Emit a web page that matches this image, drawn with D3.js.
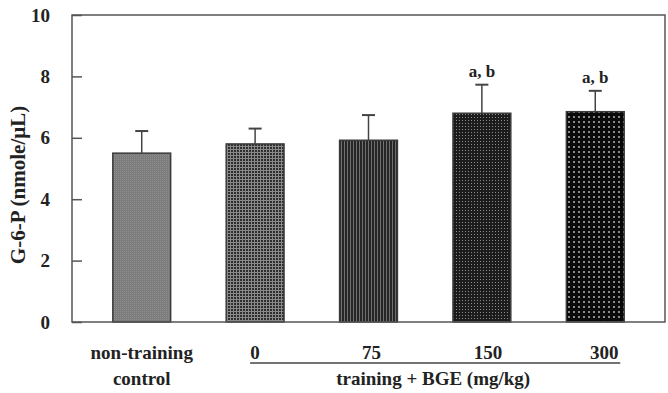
<!DOCTYPE html>
<html>
<head>
<meta charset="utf-8">
<script src="https://cdn.jsdelivr.net/npm/d3@7"></script>
<style>
  body { margin: 0; background: #fff; }
  text { font-family: "Liberation Serif", "Times New Roman", serif; font-weight: bold; fill: #222; }
</style>
</head>
<body>
<svg id="chart" width="668" height="393"></svg>
<script>
// data
const groups = ["control", "0", "75", "150", "300"];
const means = [5.5, 5.8, 5.92, 6.8, 6.85];
const sems = [0.72, 0.5, 0.82, 0.93, 0.68];
const marks = ["", "", "", "a, b", "a, b"];
const yTicks = [0, 2, 4, 6, 8, 10];
const doseLabels = ["0", "75", "150", "300"];

const svg = d3.select("#chart");
const margin = { top: 15, right: 3, bottom: 71, left: 72 };
const width = 668 - margin.left - margin.right;
const height = 393 - margin.top - margin.bottom;

// fill patterns, one per bar
const defs = svg.append("defs");
const pat = (id, size, bg, draw) => {
    const p = defs.append("pattern")
        .attr("id", id)
        .attr("patternUnits", "userSpaceOnUse")
        .attr("width", size)
        .attr("height", size);
    p.append("rect").attr("width", size).attr("height", size).attr("fill", bg);
    draw(p);
};
pat("p0", 2, "#7c7c7c", p => p.append("rect").attr("width", 1).attr("height", 1).attr("fill", "#8e8e8e"));
pat("p1", 3, "#8a8a8a", p => p.append("rect").attr("width", 2).attr("height", 2).attr("fill", "#2e2e2e"));
pat("p2", 3, "#262626", p => {
    p.append("rect").attr("x", 2).attr("width", 1).attr("height", 3).attr("fill", "#707070");
});
pat("p3", 3, "#1c1c1c", p => p.append("rect").attr("width", 1).attr("height", 1).attr("fill", "#8a8a8a"));
pat("p4", 5, "#0a0a0a", p => p.append("rect").attr("x", 1).attr("y", 1).attr("width", 2).attr("height", 2).attr("fill", "#8a8a8a"));

const g = svg.append("g").attr("transform", `translate(${margin.left},${margin.top})`);

const x = d3.scaleBand()
    .domain(groups)
    .range([0, width])
    .paddingInner(0.49)
    .paddingOuter(0.36);

const y = d3.scaleLinear()
    .domain([0, 10])
    .range([height, 0]);

// bars
g.selectAll("rect.bar")
    .data(groups)
    .join("rect")
    .attr("class", "bar")
    .attr("x", d => x(d))
    .attr("y", (d, i) => y(means[i]))
    .attr("width", x.bandwidth())
    .attr("height", (d, i) => height - y(means[i]))
    .attr("fill", (d, i) => `url(#p${i})`)
    .attr("stroke", "#3a3a3a")
    .attr("stroke-width", 1.5);

// error bars (upper only)
const err = g.selectAll("g.err")
    .data(groups)
    .join("g")
    .attr("class", "err")
    .attr("transform", d => `translate(${x(d) + x.bandwidth() / 2},0)`);

err.append("line")
    .attr("y1", (d, i) => y(means[i]))
    .attr("y2", (d, i) => y(means[i] + sems[i]))
    .attr("stroke", "#444")
    .attr("stroke-width", 1.5);

err.append("line")
    .attr("x1", -6.5)
    .attr("x2", 6.5)
    .attr("y1", (d, i) => y(means[i] + sems[i]))
    .attr("y2", (d, i) => y(means[i] + sems[i]))
    .attr("stroke", "#444")
    .attr("stroke-width", 2);

err.append("text")
    .attr("y", (d, i) => y(means[i] + sems[i]) - 8)
    .attr("text-anchor", "middle")
    .attr("font-size", 17)
    .text((d, i) => marks[i]);

// frame
g.append("rect")
    .attr("width", width)
    .attr("height", height)
    .attr("fill", "none")
    .attr("stroke", "#555")
    .attr("stroke-width", 1.5);

// y axis, ticks pointing inward
const yAxis = g.append("g")
    .call(d3.axisLeft(y).tickValues(yTicks).tickSizeInner(-10).tickSizeOuter(0).tickPadding(22));
yAxis.select(".domain").remove();
yAxis.selectAll(".tick line").attr("stroke", "#555").attr("stroke-width", 1.5);
yAxis.selectAll(".tick text")
    .attr("font-size", 19)
    .attr("font-family", "Liberation Serif, serif")
    .attr("fill", "#222");

// y title
svg.append("text")
    .attr("transform", "translate(25,185) rotate(-90)")
    .attr("text-anchor", "middle")
    .attr("font-size", 21)
    .text("G-6-P (nmole/μL)");

// x labels
const bottom = margin.top + height;
const cx = d => margin.left + x(d) + x.bandwidth() / 2;

svg.append("text")
    .attr("x", cx("control"))
    .attr("y", bottom + 37)
    .attr("text-anchor", "middle")
    .attr("font-size", 19)
    .text("non-training");

svg.append("text")
    .attr("x", cx("control"))
    .attr("y", bottom + 63)
    .attr("text-anchor", "middle")
    .attr("font-size", 19)
    .text("control");

svg.selectAll("text.dose")
    .data(doseLabels)
    .join("text")
    .attr("class", "dose")
    .attr("x", (d, i) => cx(d) + i * 3)
    .attr("y", bottom + 37)
    .attr("text-anchor", "middle")
    .attr("font-size", 19)
    .text(d => d);

svg.append("line")
    .attr("x1", cx("0") - 5)
    .attr("x2", cx("300") + 25)
    .attr("y1", bottom + 41)
    .attr("y2", bottom + 41)
    .attr("stroke", "#444")
    .attr("stroke-width", 1.5);

svg.append("text")
    .attr("x", (cx("0") + cx("300")) / 2 + 8)
    .attr("y", bottom + 63)
    .attr("text-anchor", "middle")
    .attr("font-size", 19)
    .text("training + BGE (mg/kg)");
</script>
</body>
</html>
